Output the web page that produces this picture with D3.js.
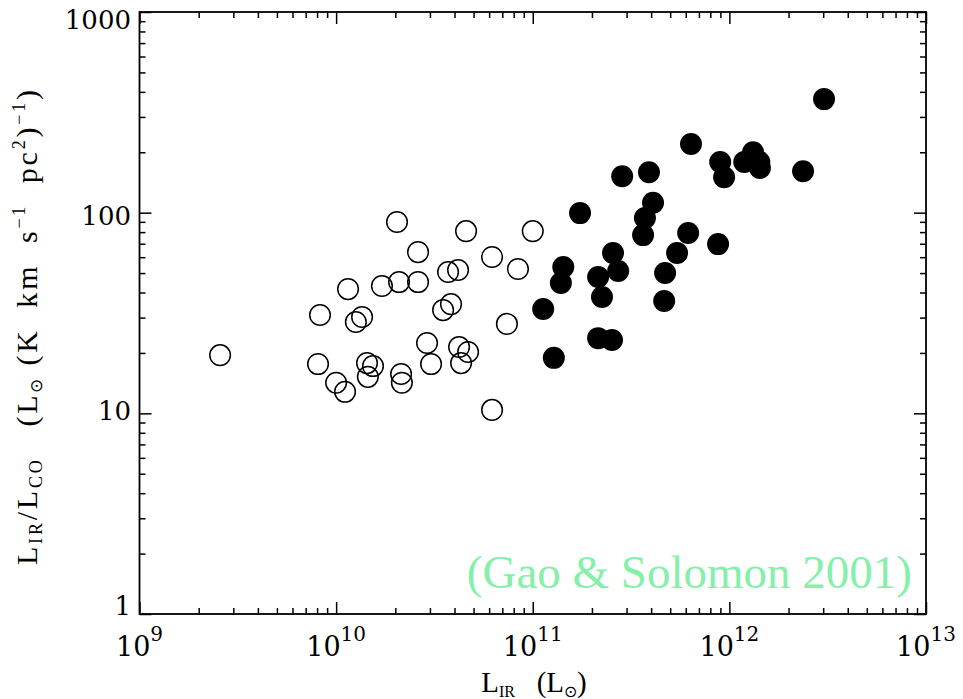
<!DOCTYPE html>
<html><head><meta charset="utf-8">
<script src="https://cdn.jsdelivr.net/npm/d3@7"></script>
<style>
body{margin:0;background:#fff}
.tk{font-family:"DejaVu Serif";}
.an{font-family:"Liberation Serif";}
.ti{font-family:"Times New Roman";}
</style>
</head><body><svg id="c" width="963" height="699"></svg>
<script>
// Open circles: normal spirals (L_IR in L_sun, L_IR/L_CO)
const openLIR = [2.57e9, 8.28e9, 8.09e9, 1.0e10, 1.11e10, 1.15e10, 1.26e10, 1.355e10, 1.436e10, 1.54e10, 1.45e10,
  1.71e10, 2.04e10, 2.09e10, 2.61e10, 2.61e10, 2.90e10, 2.14e10, 2.16e10, 3.04e10, 3.50e10, 3.84e10,
  3.71e10, 4.17e10, 4.22e10, 4.69e10, 4.32e10, 4.58e10, 6.21e10, 7.39e10, 6.21e10, 8.41e10, 1.0e11];
const openRatio = [19.5, 30.9, 17.6, 14.2, 12.8, 41.6, 28.5, 30.2, 17.8, 17.2, 15.2,
  43.1, 89.8, 45.1, 45.1, 63.6, 22.4, 15.7, 14.2, 17.6, 32.7, 35.0,
  50.6, 51.8, 21.4, 20.2, 17.8, 80.9, 60.1, 27.9, 10.4, 52.4, 80.9];
// Filled circles: LIRGs / ULIRGs
const filledLIR = [3.03e12, 6.38e11, 8.98e11, 9.40e11, 1.19e12, 1.32e12, 1.42e12, 1.43e12, 2.37e12, 2.85e11,
  3.90e11, 4.09e11, 3.72e11, 3.64e11, 1.74e11, 6.17e11, 8.76e11, 5.42e11, 4.71e11, 4.66e11,
  2.56e11, 2.72e11, 2.15e11, 2.25e11, 1.43e11, 1.39e11, 1.13e11, 2.15e11, 2.53e11, 1.28e11];
const filledRatio = [368, 220, 179, 150, 179, 200, 179, 167, 161, 152,
  159, 112, 94, 77.3, 99.5, 79.2, 69.7, 62.9, 50.0, 36.3,
  62.9, 51.2, 47.8, 38.0, 53.6, 44.6, 33.1, 23.7, 23.2, 18.9];

const xTickExps = [9, 10, 11, 12, 13];
const yTickValues = [1, 10, 100, 1000];
const yTickLabels = ["1", "10", "100", "1000"];
const annotation = "(Gao & Solomon 2001)";

const L = 139.5, R = 926, T = 12, B = 614;
const x = d3.scaleLog().domain([1e9, 1e13]).range([L, R]);
const y = d3.scaleLog().domain([1, 1000]).range([B, T]);
const yLab = d3.scaleLog().domain([1, 1000]).range([606, 20]);

const svg = d3.select("#c");

const xMinor = [], yMinor = [];
for (let e = 9; e < 13; e++) for (let k = 2; k <= 9; k++) xMinor.push(k * Math.pow(10, e));
for (let e = 0; e < 3; e++) for (let k = 2; k <= 9; k++) yMinor.push(k * Math.pow(10, e));
const xMajor = xTickExps.map(e => Math.pow(10, e));

function ax(gen, scale, vals, size, tx, ty) {
  const g = svg.append("g").attr("transform", `translate(${tx},${ty})`)
    .call(gen(scale).tickValues(vals).tickSize(-size).tickFormat(""));
  g.select(".domain").remove();
  g.selectAll("line").attr("stroke", "#000").attr("stroke-width", 1.5);
}
ax(d3.axisBottom, x, xMajor, 12, 0, B);
ax(d3.axisBottom, x, xMinor, 6, 0, B);
ax(d3.axisTop, x, xMajor, 12, 0, T);
ax(d3.axisTop, x, xMinor, 6, 0, T);
ax(d3.axisLeft, y, yTickValues, 12, L, 0);
ax(d3.axisLeft, y, yMinor, 6, L, 0);
ax(d3.axisRight, y, yTickValues, 12, R, 0);
ax(d3.axisRight, y, yMinor, 6, R, 0);

svg.append("rect").attr("x", L).attr("y", T).attr("width", R - L).attr("height", B - T)
  .attr("fill", "none").attr("stroke", "#000").attr("stroke-width", 1.8);

svg.append("g").selectAll("text").data(yTickValues).join("text")
  .attr("class", "tk")
  .attr("x", 131).attr("y", d => yLab(d)).attr("dy", "0.36em")
  .attr("text-anchor", "end").attr("font-size", 26)
  .text((d, i) => yTickLabels[i]);

const xl = svg.append("g").selectAll("text").data(xTickExps).join("text")
  .attr("class", "tk")
  .attr("x", d => x(Math.pow(10, d))).attr("y", 656)
  .attr("text-anchor", "middle").attr("font-size", 27);
xl.append("tspan").text("10");
xl.append("tspan").attr("dy", -15).attr("font-size", 20).text(d => d);

svg.append("g").selectAll("circle").data(openLIR).join("circle")
  .attr("cx", d => x(d)).attr("cy", (d, i) => y(openRatio[i])).attr("r", 10.3)
  .attr("fill", "none").attr("stroke", "#000").attr("stroke-width", 1.5);
svg.append("g").selectAll("circle").data(filledLIR).join("circle")
  .attr("cx", d => x(d)).attr("cy", (d, i) => y(filledRatio[i])).attr("r", 11)
  .attr("fill", "#000");

svg.append("text").attr("class", "an").attr("x", 912).attr("y", 588).attr("text-anchor", "end")
  .attr("font-size", 47).attr("fill", "#86f0aa").text(annotation);

const xt = svg.append("text").attr("class", "ti").attr("x", 534).attr("y", 692).attr("text-anchor", "middle")
  .attr("font-size", 29).style("white-space", "pre");
xt.append("tspan").text("L");
xt.append("tspan").attr("dy", 5).attr("font-size", 16).text("IR");
xt.append("tspan").attr("dy", -5).text("   (L");
xt.append("tspan").attr("dy", 5).attr("font-size", 16).text("⊙");
xt.append("tspan").attr("dy", -5).text(")");

const yt = svg.append("text").attr("class", "ti").attr("transform", "translate(37,565) rotate(-90)")
  .attr("text-anchor", "start").attr("font-size", 30)
  .attr("textLength", 475).attr("lengthAdjust", "spacing")
  .style("white-space", "pre");
yt.append("tspan").text("L");
yt.append("tspan").attr("dy", 5).attr("font-size", 18).text("IR");
yt.append("tspan").attr("dy", -5).text("/L");
yt.append("tspan").attr("dy", 5).attr("font-size", 18).text("CO");
yt.append("tspan").attr("dy", -5).text("   (L");
yt.append("tspan").attr("dy", 5).attr("font-size", 17).text("⊙");
yt.append("tspan").attr("dy", -5).text(" (K  km  s");
yt.append("tspan").attr("dy", -12).attr("font-size", 18).text("−1");
yt.append("tspan").attr("dy", 12).text("  pc");
yt.append("tspan").attr("dy", -12).attr("font-size", 18).text("2");
yt.append("tspan").attr("dy", 12).text(")");
yt.append("tspan").attr("dy", -12).attr("font-size", 18).text("−1");
yt.append("tspan").attr("dy", 12).text(")");
</script></body></html>
